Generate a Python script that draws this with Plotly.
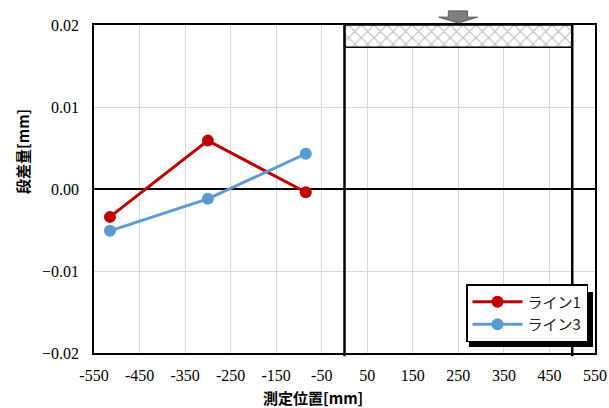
import plotly.graph_objects as go

# Data
x_positions = [-515, -300, -85]
line1_values = [-0.0034, 0.0059, -0.0004]
line3_values = [-0.0051, -0.0012, 0.0043]
series_names = ["ライン1", "ライン3"]
x_ticks = list(range(-550, 551, 100))
y_ticks = [-0.02, -0.01, 0.0, 0.01, 0.02]

RED = "#C00000"
BLUE = "#5B9BD5"

fig = go.Figure()

# hatched block (decoration)
fig.add_trace(go.Bar(
    x=[250], y=[0.0027], base=[0.0173], width=[500],
    marker=dict(color="white", line=dict(color="black", width=1.5),
                pattern=dict(shape="x", fgcolor="#7a7a7a", bgcolor="white", size=9, solidity=0.25)),
    showlegend=False, hoverinfo="skip"))

fig.add_trace(go.Scatter(
    x=x_positions, y=line1_values, mode="lines+markers", name=series_names[0],
    line=dict(color=RED, width=3), marker=dict(color=RED, size=12)))
fig.add_trace(go.Scatter(
    x=x_positions, y=line3_values, mode="lines+markers", name=series_names[1],
    line=dict(color=BLUE, width=3), marker=dict(color=BLUE, size=12)))

shapes = [
    dict(type="line", xref="x", yref="paper", x0=0, x1=0, y0=-0.01, y1=1,
         line=dict(color="black", width=2.5), layer="above"),
    dict(type="line", xref="x", yref="paper", x0=500, x1=500, y0=-0.01, y1=1,
         line=dict(color="black", width=2.5), layer="above"),
    # arrow
    dict(type="path", xref="x", yref="paper",
         path="M 228,1.043 L 270,1.043 L 270,1.024 L 292,1.024 L 250,1.006 L 207,1.024 L 228,1.024 Z",
         fillcolor="#7f7f7f", line=dict(color="#595959", width=1)),
    # legend shadow
    dict(type="rect", xref="paper", yref="paper",
         x0=(469 - 94) / 501, x1=(593 - 94) / 501, y0=(353 - 347) / 328, y1=(353 - 292) / 328,
         fillcolor="black", line=dict(width=0), layer="above"),
]

fig.update_layout(
    width=609, height=408,
    margin=dict(l=94, r=14, t=25, b=55, autoexpand=False),
    paper_bgcolor="white", plot_bgcolor="white",
    shapes=shapes,
    showlegend=True,
    legend=dict(x=(588 - 94) / 501, y=(353 - 342) / 328, xanchor="right", yanchor="bottom",
                bgcolor="white", bordercolor="black", borderwidth=1.5,
                font=dict(family="Noto Sans CJK JP", size=15, color="#222"),
                tracegroupgap=0, itemwidth=50),
    xaxis=dict(range=[-550, 550], tickvals=x_ticks, ticktext=[str(v) for v in x_ticks],
               showgrid=True, gridcolor="#D9D9D9", gridwidth=1, automargin=False,
               showline=True, linecolor="black", linewidth=1.5, mirror=True,
               ticks="outside", ticklen=7, tickcolor="rgba(0,0,0,0)", zeroline=False,
               tickfont=dict(family="Liberation Serif", size=16, color="black")),
    yaxis=dict(range=[-0.02, 0.02], tickvals=y_ticks, tickformat=".2f",
               showgrid=True, gridcolor="#D9D9D9", gridwidth=1, automargin=False,
               showline=True, linecolor="black", linewidth=1.5, mirror=True,
               ticks="outside", ticklen=10, tickcolor="rgba(0,0,0,0)",
               zeroline=True, zerolinecolor="black", zerolinewidth=1.5,
               tickfont=dict(family="Liberation Serif", size=16, color="black")),
    annotations=[
        dict(text="<b>測定位置[mm]</b>", xref="paper", yref="paper",
             x=(313 - 94) / 501, y=(353 - 397) / 328, xanchor="center", yanchor="middle",
             showarrow=False, font=dict(family="Noto Sans CJK JP", size=15, color="black")),
        dict(text="<b>段差量[mm]</b>", xref="paper", yref="paper", textangle=-90,
             x=(22 - 94) / 501, y=(353 - 152) / 328, xanchor="center", yanchor="middle",
             showarrow=False, font=dict(family="Noto Sans CJK JP", size=15, color="black")),
    ],
)

fig.write_html("out.html", config={"displayModeBar": False},
               post_script="document.body.style.margin='0';document.body.style.overflow='hidden';")
